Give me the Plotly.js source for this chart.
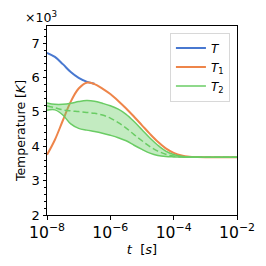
<!DOCTYPE html>
<html>
<head>
<meta charset="utf-8">
<script src="https://cdn.plot.ly/plotly-3.0.1.min.js"></script>
<style>html,body{margin:0;padding:0;background:#fff;}#chart{width:266px;height:266px;}</style>
</head>
<body>
<div id="chart"></div>
<script>
// log10 of time [s]
const logT = [-8, -7.75, -7.5, -7.25, -7, -6.75, -6.5, -6.25, -6, -5.75, -5.5, -5.25, -5, -4.75, -4.5, -4.25, -4, -3.75, -3.5, -3.25, -3, -2.5, -2];
// Temperatures [K]
const T_vals  = [6720, 6600, 6390, 6160, 5990, 5880, 5820];
const T1_vals = [3750, 4190, 4750, 5300, 5680, 5850, 5810, 5680, 5520, 5320, 5100, 4860, 4610, 4360, 4130, 3940, 3810, 3730, 3695, 3685, 3680, 3680, 3680];
const T2_upper = [5260, 5220, 5220, 5250, 5300, 5330, 5310, 5250, 5180, 5080, 4930, 4720, 4480, 4240, 4030, 3860, 3760, 3710, 3690, 3685, 3680, 3680, 3680];
const T2_lower = [5050, 5060, 4910, 4650, 4520, 4470, 4430, 4380, 4320, 4250, 4160, 4030, 3910, 3800, 3730, 3700, 3690, 3685, 3680, 3680, 3680, 3680, 3680];
const T2_mean  = [5170, 5120, 5060, 5030, 5010, 4985, 4960, 4910, 4820, 4690, 4530, 4340, 4160, 3990, 3860, 3770, 3715, 3690, 3680, 3680, 3680, 3680, 3680];
const yTicks = [2, 3, 4, 5, 6, 7];

const t = logT.map(v => Math.pow(10, v));
const k = a => a.map(v => v / 1000);

const blue = '#4878d0', orange = '#ee854a', green = '#6acc64';

const traces = [
  {x: t.slice(0, T_vals.length), y: k(T_vals), type: 'scatter', mode: 'lines', name: '<i>T</i>',
   line: {color: blue, width: 2, shape: 'spline', smoothing: 1}},
  {x: t, y: k(T1_vals), type: 'scatter', mode: 'lines', name: '<i>T</i><sub>1</sub>',
   line: {color: orange, width: 2, shape: 'spline', smoothing: 1}},
  {x: t, y: k(T2_upper), type: 'scatter', mode: 'lines', name: '<i>T</i><sub>2</sub>',
   line: {color: green, width: 1.5, shape: 'spline', smoothing: 1}},
  {x: t, y: k(T2_lower), type: 'scatter', mode: 'lines', showlegend: false,
   line: {color: green, width: 1.5, shape: 'spline', smoothing: 1}, fill: 'tonexty', fillcolor: 'rgba(106,204,100,0.4)'},
  {x: t, y: k(T2_mean), type: 'scatter', mode: 'lines', showlegend: false,
   line: {color: green, width: 1.5, dash: '6px,3px', shape: 'spline', smoothing: 1}}
];

const F = s => ({family: 'DejaVu Sans, sans-serif', size: s, color: '#000'});

const layout = {
  width: 266, height: 266,
  margin: {l: 47, r: 29, t: 26, b: 51},
  paper_bgcolor: '#fff', plot_bgcolor: '#fff',
  font: F(12),
  showlegend: true,
  legend: {x: 0.647, y: 0.965, xanchor: 'left', yanchor: 'top', traceorder: 'normal',
           bgcolor: 'rgba(255,255,255,0.8)', bordercolor: '#d8d8d8', borderwidth: 1,
           font: F(12), tracegroupgap: 0, itemwidth: 30},
  xaxis: {type: 'log', range: [-8, -2], dtick: 2, exponentformat: 'power',
          showline: true, mirror: true, linecolor: '#000', linewidth: 1,
          ticks: 'outside', ticklen: 3.5, tickcolor: '#000', showgrid: false, zeroline: false,
          tickfont: F(12.5),
          title: {text: '<i>t</i>  [<i>s</i>]', font: F(13), standoff: 4}},
  yaxis: {range: [2, 7.5], tickvals: yTicks, ticktext: yTicks.map(String),
          showline: true, mirror: true, linecolor: '#000', linewidth: 1,
          ticks: 'outside', ticklen: 3.5, tickcolor: '#000', showgrid: false, zeroline: false,
          minor: {dtick: 0.2, ticks: 'outside', ticklen: 2, tickcolor: '#000', showgrid: false},
          tickfont: F(13)},
  annotations: [
    {text: '×10<sup>3</sup>', xref: 'paper', yref: 'paper', x: 0, y: 1,
     xanchor: 'center', yanchor: 'bottom', showarrow: false, font: F(12.5), xshift: -6, yshift: -1},
    {text: 'Temperature [<i>K</i>]', xref: 'paper', yref: 'paper', x: -0.142, y: 0.444,
     xanchor: 'center', yanchor: 'middle', textangle: -90, showarrow: false, font: F(12.5)}
  ]
};

Plotly.newPlot('chart', traces, layout, {staticPlot: true, displayModeBar: false});
</script>
</body>
</html>
